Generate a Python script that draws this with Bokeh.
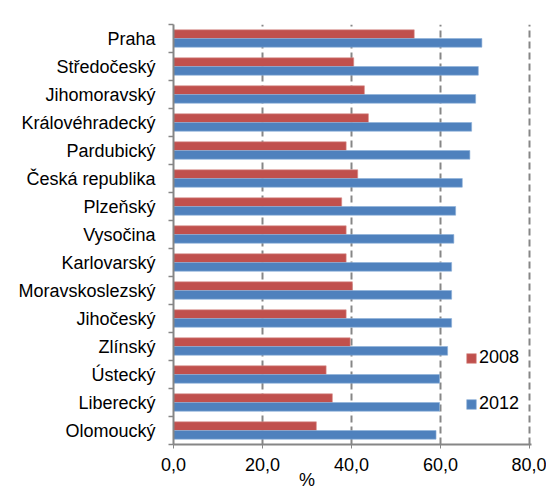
import numpy as np
from bokeh.plotting import figure
from bokeh.models import Range1d, FixedTicker, LinearAxis, ColumnDataSource
from bokeh.embed import file_html
from bokeh.resources import INLINE

regions = ["Praha", "Středočeský", "Jihomoravský", "Královéhradecký", "Pardubický",
           "Česká republika", "Plzeňský", "Vysočina", "Karlovarský", "Moravskoslezský",
           "Jihočeský", "Zlínský", "Ústecký", "Liberecký", "Olomoucký"]
v2008 = [54.1, 40.5, 42.9, 43.8, 38.8, 41.4, 37.8, 38.8, 38.8, 40.2, 38.8, 39.7, 34.3, 35.7, 32.1]
v2012 = [69.3, 68.5, 67.9, 67.0, 66.6, 64.9, 63.4, 63.0, 62.5, 62.5, 62.5, 61.6, 59.8, 59.8, 59.0]
series_names = ["2008", "2012"]
x_ticks = [0, 20, 40, 60, 80]
x_tick_labels = ["0,0", "20,0", "40,0", "60,0", "80,0"]
x_label = "%"

RED = "#C0504D"
BLUE = "#4F81BD"
GRAY = "#868686"
FONT = "Liberation Sans"
FS = "18px"

n = len(regions)
pos = np.arange(n, 0, -1)  # Praha on top
bar_h = 0.31

p = figure(width=546, height=493, output_backend="svg", toolbar_location=None,
           x_range=Range1d(0, 80.45), y_range=Range1d(0.5, n + 0.5),
           min_border_left=173, min_border_right=15, min_border_top=24, min_border_bottom=49)
p.outline_line_color = None
p.background_fill_color = "white"
p.border_fill_color = "white"

src = ColumnDataSource(dict(pos=pos, a=v2008, b=v2012,
                            ya=pos + bar_h / 2, yb=pos - bar_h / 2))
p.hbar(y="ya", right="a", left=0, height=bar_h, source=src, fill_color=RED,
       line_color="#D88E8C", line_width=0.6, legend_label=series_names[0])
p.hbar(y="yb", right="b", left=0, height=bar_h, source=src, fill_color=BLUE,
       line_color="#8DB0D8", line_width=0.6, legend_label=series_names[1])

# x axis
xa = p.xaxis[0]
xa.ticker = FixedTicker(ticks=x_ticks)
xa.major_label_overrides = {t: l for t, l in zip(x_ticks, x_tick_labels)}
xa.axis_line_color = GRAY
xa.axis_line_width = 2
xa.major_tick_line_color = GRAY
xa.major_tick_in = 0
xa.major_tick_out = 4
xa.minor_tick_line_color = None
xa.major_label_standoff = 9
xa.major_label_text_font = FONT
xa.major_label_text_font_size = FS
xa.major_label_text_color = "#000000"

# x axis title "%" as a second, line-less axis below (positioned left of centre like the reference)
title_axis = LinearAxis(ticker=FixedTicker(ticks=[30]), major_label_overrides={30: x_label})
title_axis.axis_line_color = None
title_axis.major_tick_line_color = None
title_axis.minor_tick_line_color = None
title_axis.major_tick_in = 0
title_axis.major_tick_out = 0
title_axis.major_label_standoff = -4
title_axis.major_label_text_font = FONT
title_axis.major_label_text_font_size = FS
title_axis.major_label_text_color = "#000000"
p.add_layout(title_axis, "below")

# y axis
ya = p.yaxis[0]
centers = [int(c) for c in pos]
ya.ticker = FixedTicker(ticks=centers, minor_ticks=[i + 0.5 for i in range(0, n + 1)])
ya.major_label_overrides = {int(c): r for c, r in zip(pos, regions)}
ya.axis_line_color = GRAY
ya.axis_line_width = 2
ya.major_tick_line_color = None
ya.major_tick_in = 0
ya.major_tick_out = 0
ya.minor_tick_line_color = GRAY
ya.minor_tick_line_width = 1.5
ya.minor_tick_in = 0
ya.minor_tick_out = 5
ya.major_label_standoff = 13
ya.major_label_text_font = FONT
ya.major_label_text_font_size = FS
ya.major_label_text_color = "#000000"

# grid
p.ygrid.grid_line_color = None
p.xgrid.ticker = FixedTicker(ticks=x_ticks[1:])
p.xgrid.grid_line_color = GRAY
p.xgrid.grid_line_width = 2
p.xgrid.grid_line_dash = "7 4"

# legend
lg = p.legend[0]
lg.location = (292, 30)
lg.padding = 0
lg.margin = 0
lg.spacing = 25
lg.glyph_width = 12
lg.glyph_height = 12
lg.label_height = 12
lg.label_standoff = 2
lg.label_text_font = FONT
lg.label_text_font_size = FS
lg.label_text_color = "#000000"
lg.border_line_color = None
lg.background_fill_alpha = 0

open("out.html", "w").write(file_html(p, INLINE))
